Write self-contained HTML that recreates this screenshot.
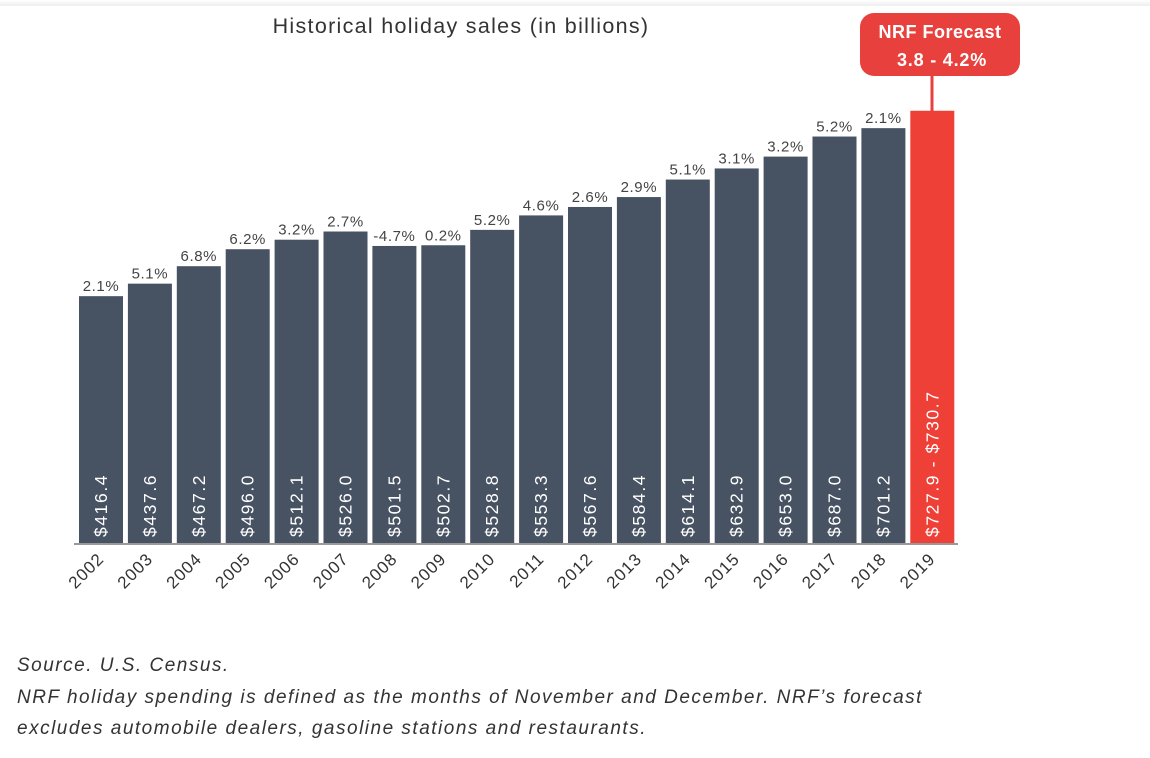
<!DOCTYPE html>
<html><head><meta charset="utf-8"><style>
body{margin:0;width:1150px;height:758px;background:#fff;overflow:hidden;font-family:"Liberation Sans",sans-serif}
#topline{position:absolute;left:0;top:0;width:1150px;height:6px;background:linear-gradient(#fff,#eee)}
.foot{position:absolute;left:17px;font-size:19px;letter-spacing:1.5px;font-style:italic;color:#333}
</style></head><body>
<div id="topline"></div>
<svg id="chart" width="1150" height="650" style="position:absolute;left:0;top:0">
<text x="461" y="33" text-anchor="middle" font-size="21.5" letter-spacing="1.3" fill="#333">Historical holiday sales (in billions)</text>
<g id="bars"></g>
<line x1="74" y1="544" x2="958" y2="544" stroke="#999" stroke-width="2"/>
<g>
<line x1="932" y1="74" x2="932" y2="112" stroke="#e8403d" stroke-width="3"/>
<rect x="860" y="13" width="160" height="63" rx="14" fill="#e8403d"/>
<text x="940" y="38" text-anchor="middle" font-size="18" font-weight="bold" letter-spacing="0.5" fill="#fff">NRF Forecast</text>
<text x="942" y="66" text-anchor="middle" font-size="18" font-weight="bold" letter-spacing="0.8" fill="#fff">3.8 - 4.2%</text>
</g>
</svg>
<div class="foot" style="top:655px">Source. U.S. Census.</div>
<div class="foot" style="top:687px">NRF holiday spending is defined as the months of November and December. NRF’s forecast</div>
<div class="foot" style="top:718px">excludes automobile dealers, gasoline stations and restaurants.</div>
<script>
const years=["2002","2003","2004","2005","2006","2007","2008","2009","2010","2011","2012","2013","2014","2015","2016","2017","2018","2019"];
const values=[416.4,437.6,467.2,496.0,512.1,526.0,501.5,502.7,528.8,553.3,567.6,584.4,614.1,632.9,653.0,687.0,701.2,730.7];
const valueLabels=["$416.4","$437.6","$467.2","$496.0","$512.1","$526.0","$501.5","$502.7","$528.8","$553.3","$567.6","$584.4","$614.1","$632.9","$653.0","$687.0","$701.2","$727.9 - $730.7"];
const growth=["2.1%","5.1%","6.8%","6.2%","3.2%","2.7%","-4.7%","0.2%","5.2%","4.6%","2.6%","2.9%","5.1%","3.1%","3.2%","5.2%","2.1%",""];
const NS="http://www.w3.org/2000/svg";
const g=document.getElementById('bars');
const x0=79,step=48.9,bw=44,base=541.8,k=0.5899;
const xs=i=>x0+i*step;
const ys=v=>base-v*k;
function mk(t,a){const e=document.createElementNS(NS,t);for(const n in a)e.setAttribute(n,a[n]);g.appendChild(e);return e;}
years.forEach((yr,i)=>{
  const x=xs(i),y=ys(values[i]),fc=i===years.length-1;
  const r=mk('rect',{x:x,y:y,width:bw,height:543-y,fill:fc?'#ef4038':'#475262'});
  
  
  const cx=x+bw/2;
  const vl=mk('text',{x:0,y:0,transform:`translate(${cx+6},537) rotate(-90)`,'font-size':'17.5','letter-spacing':'1.6',fill:'#fff'});
  vl.textContent=valueLabels[i];
  
  
  if(growth[i]){
    const gl=mk('text',{x:cx,y:y-5,'text-anchor':'middle','font-size':'15','letter-spacing':'0.6',fill:'#444'});
    gl.textContent=growth[i];
    
    
  }
  const yl=mk('text',{x:0,y:0,transform:`translate(${cx+4},560) rotate(-45)`,'text-anchor':'end','font-size':'17','letter-spacing':'1',fill:'#333'});
  yl.textContent=yr;
  
  
});
</script>
</body></html>
